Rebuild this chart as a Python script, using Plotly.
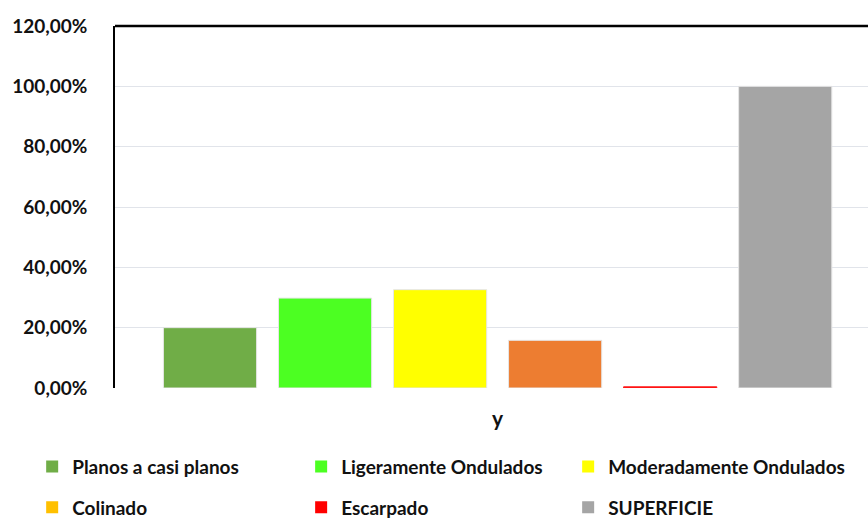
import plotly.graph_objects as go

# Data
categories = ["y"]
series_names = [
    "Planos a casi planos",
    "Ligeramente Ondulados",
    "Moderadamente Ondulados",
    "Colinado",
    "Escarpado",
    "SUPERFICIE",
]
series_values = [0.200, 0.298, 0.326, 0.158, 0.004, 1.000]
bar_colors = ["#70AD47", "#4CFF22", "#FFFF00", "#ED7D31", "#FF0000", "#A5A5A5"]
bar_edges = ["#E6E6E6", "#E6E6E6", "#E6E6E6", "#E6E6E6", "#FF2020", "#E6E6E6"]
legend_colors = ["#70AD47", "#4CFF22", "#FFFF00", "#FFC000", "#FF0000", "#A5A5A5"]
y_ticks = [0.0, 0.2, 0.4, 0.6, 0.8, 1.0, 1.2]

FONT = "Lato"
TEXT_COLOR = "#111111"

fig = go.Figure()

# Bars (one trace per series, grouped in the single category)
for name, val, col, edge in zip(series_names, series_values, bar_colors, bar_edges):
    fig.add_trace(go.Bar(
        x=categories,
        y=[val],
        name=name,
        marker=dict(color=col, line=dict(color=edge, width=1)),
        showlegend=False,
        hoverinfo="skip",
    ))

# Legend entries: three columns of two rows each
legend_ids = ["legend", "legend2", "legend3"]
for i, (name, col) in enumerate(zip(series_names, legend_colors)):
    fig.add_trace(go.Scatter(
        x=[None], y=[None],
        mode="markers",
        name=name,
        legendgroup=name,
        marker=dict(symbol="square", size=12, color=col),
        legend=legend_ids[i % 3],
        hoverinfo="skip",
    ))

legend_common = dict(
    orientation="v",
    xanchor="left",
    yanchor="top",
    y=-0.165,
    itemwidth=30,
    tracegroupgap=13,
    borderwidth=0,
    font=dict(family=FONT, size=19, color=TEXT_COLOR, weight="bold"),
    bgcolor="rgba(0,0,0,0)",
    traceorder="grouped",
)

fig.update_layout(
    width=868,
    height=520,
    margin=dict(l=115, r=0, t=26, b=132, autoexpand=False),
    paper_bgcolor="white",
    plot_bgcolor="white",
    barmode="group",
    bargap=0.098,
    bargroupgap=0.19,
    separators=",.",
    legend=dict(legend_common, x=-0.110),
    legend2=dict(legend_common, x=0.2472),
    legend3=dict(legend_common, x=0.6018),
    xaxis=dict(
        type="category",
        range=[-0.5, 0.484],
        showgrid=False,
        showline=False,
        ticks="",
        ticklabelstandoff=16,
        tickfont=dict(family=FONT, size=21, color=TEXT_COLOR, weight="bold"),
    ),
    yaxis=dict(
        range=[0, 1.2],
        tickvals=y_ticks,
        tickformat=".2%",
        showgrid=True,
        gridcolor="#E1E4EA",
        gridwidth=1,
        zeroline=False,
        showline=True,
        linecolor="#000000",
        linewidth=1.5,
        ticks="",
        ticklabelstandoff=22,
        tickfont=dict(family=FONT, size=19, color=TEXT_COLOR, weight="bold"),
    ),
    shapes=[
        dict(type="line", xref="paper", yref="paper", x0=0, x1=1, y0=1, y1=1,
             line=dict(color="#000000", width=2.5)),
    ],
)

fig.write_html("out.html")
